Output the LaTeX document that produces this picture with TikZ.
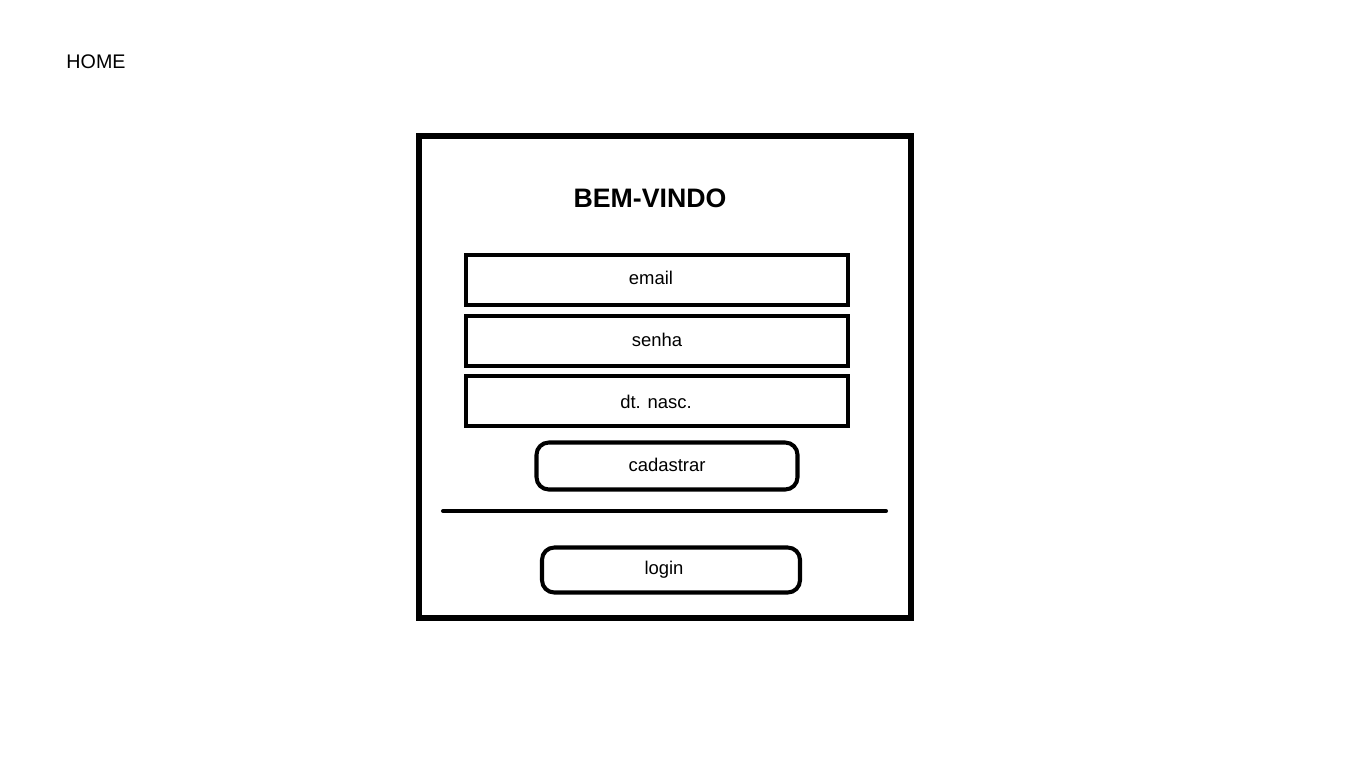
\documentclass[tikz,border=0pt]{standalone}
\usepackage{fontspec}
\setmainfont{Liberation Sans}
\begin{document}
\begin{tikzpicture}[x=0.02cm, y=-0.02cm, every node/.style={font=\fontsize{10.5}{12}\selectfont}]

\useasboundingbox (0,0) rectangle (1366,768);

% Define the page title
\node (home) at (96,62) {\fontsize{11.2}{13}\selectfont HOME};

% Define the outer frame
\node[draw, line width=2.9pt, minimum width=492*0.02cm, minimum height=482*0.02cm] (frame) at (665,377) {};
\node (title) at (650,198) {\fontsize{15.2}{18}\selectfont\bfseries BEM-VINDO};

% Define the input fields
\node[draw, line width=2.3pt, minimum width=382*0.02cm, minimum height=50*0.02cm] (email) at (657,280) {};
\node at (651,278) {email};
\node[draw, line width=2.3pt, minimum width=382*0.02cm, minimum height=50*0.02cm] (senha) at (657,341) {};
\node at (657,340) {senha};
\node[draw, line width=2.3pt, minimum width=382*0.02cm, minimum height=50*0.02cm] (dtnasc) at (657,401) {};
\node at (656,402) {dt. nasc.};

% Define the buttons
\node[draw, line width=2.3pt, rounded corners=7pt, minimum width=261*0.02cm, minimum height=47*0.02cm] (cadastrar) at (667,466) {};
\node at (667,465) {cadastrar};
\node[draw, line width=2.3pt, rounded corners=7pt, minimum width=258*0.02cm, minimum height=45*0.02cm] (login) at (671,570) {};
\node at (664,570) {login};

% Separator
\coordinate (sepL) at (443,511);
\coordinate (sepR) at (886,511);
\draw[line width=2.3pt, line cap=round] (sepL) -- (sepR);

\end{tikzpicture}
\end{document}
